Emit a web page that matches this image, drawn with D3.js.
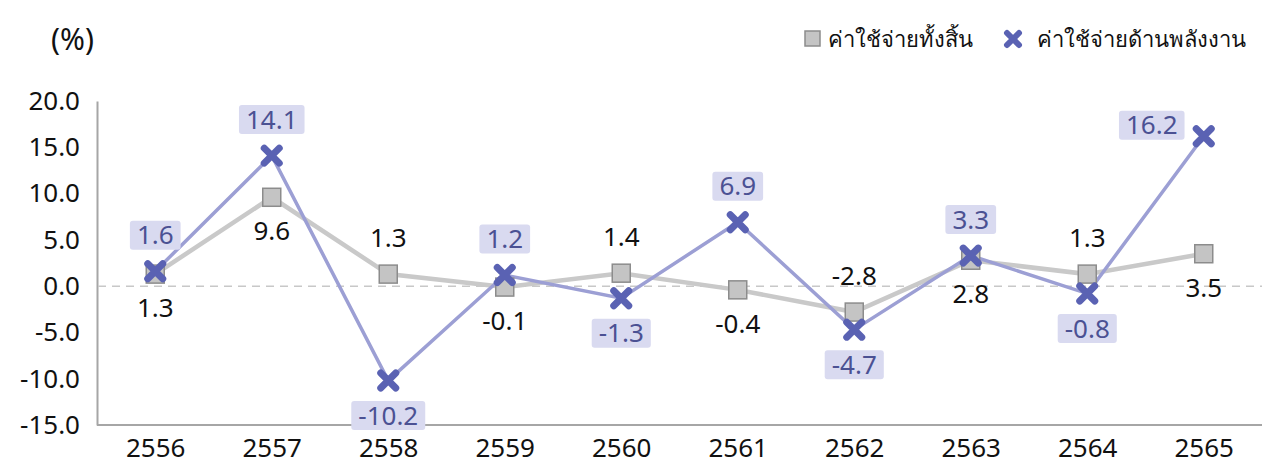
<!DOCTYPE html>
<html><head><meta charset="utf-8">
<script src="https://cdn.jsdelivr.net/npm/d3@7"></script>
<style>body{margin:0;background:#fff}svg{display:block}text{font-family:"Noto Sans","DejaVu Sans",sans-serif}</style>
</head><body><svg id="c" width="1274" height="464"></svg>
<script>
const years = ["2556","2557","2558","2559","2560","2561","2562","2563","2564","2565"];
const totalExp = [1.3, 9.6, 1.3, -0.1, 1.4, -0.4, -2.8, 2.8, 1.3, 3.5];
const energyExp = [1.6, 14.1, -10.2, 1.2, -1.3, 6.9, -4.7, 3.3, -0.8, 16.2];
const totalLabelPos = ["below","below","above","below","above","below","above","below","above","below"];
const energyLabelPos = ["above","above","below","above","below","above","below","above","below","left"];
const yTicks = [20, 15, 10, 5, 0, -5, -10, -15];
const seriesNames = ["ค่าใช้จ่ายทั้งสิ้น", "ค่าใช้จ่ายด้านพลังงาน"];

const fmt = d => d.toFixed(1);
const svg = d3.select("#c");
const x = d3.scalePoint().domain(years).range([97, 1262]).padding(0.5);
const y = d3.scaleLinear().domain([-15, 20]).range([425, 101]);
const fs = 26;

// y axis
const ya = svg.append("g").attr("transform","translate(97,0)")
  .call(d3.axisLeft(y).tickValues(yTicks).tickSize(0).tickPadding(17).tickFormat(fmt));
ya.select(".domain").attr("stroke","#a6a6a6").attr("stroke-width",2);
ya.selectAll("text").attr("font-size",fs).attr("fill","#111").style("font-family",'"Noto Sans",sans-serif');

// x axis
const xa = svg.append("g").attr("transform","translate(0,425)")
  .call(d3.axisBottom(x).tickSize(0).tickPadding(14));
xa.select(".domain").attr("stroke","#a6a6a6").attr("stroke-width",2).attr("d","M97,0H1262");
xa.selectAll("text").attr("font-size",fs).attr("fill","#111").style("font-family",'"Noto Sans",sans-serif');

// zero line
svg.append("line").attr("x1",98).attr("x2",1262).attr("y1",y(0)).attr("y2",y(0))
  .attr("stroke","#c8c8c8").attr("stroke-width",1.5).attr("stroke-dasharray","8,6");

svg.append("text").attr("x",51).attr("y",50).attr("font-size",30).attr("fill","#111").text("(%)");

const line = d3.line().x((d,i)=>x(years[i])).y(d=>y(d));
svg.append("path").datum(totalExp).attr("d",line).attr("fill","none").attr("stroke","#c9c9c9").attr("stroke-width",4.5);
svg.append("path").datum(energyExp).attr("d",line).attr("fill","none").attr("stroke","#9c9fd4").attr("stroke-width",3.5);

// square markers
svg.selectAll(".sq").data(totalExp).join("rect")
  .attr("x",(d,i)=>x(years[i])-9).attr("y",d=>y(d)-9).attr("width",18).attr("height",18)
  .attr("fill","#c4c4c4").attr("stroke","#8c8c8c").attr("stroke-width",1.5);

// x markers
function xMark(g, cx, cy, s, w){
  g.append("path").attr("d",`M${cx-s},${cy-s}L${cx+s},${cy+s}M${cx-s},${cy+s}L${cx+s},${cy-s}`)
   .attr("stroke","#5a62b3").attr("stroke-width",w).attr("stroke-linecap","round").attr("fill","none");
}
energyExp.forEach((d,i)=>xMark(svg, x(years[i]), y(d), 7.5, 7));

// total labels
svg.selectAll(".tl").data(totalExp).join("text")
  .attr("x",(d,i)=>x(years[i]))
  .attr("y",(d,i)=>y(d)+(totalLabelPos[i]==="above"?-36:34))
  .attr("dy","0.35em").attr("text-anchor","middle").attr("font-size",fs).attr("fill","#111")
  .text(fmt);

// energy labels with boxes
energyExp.forEach((d,i)=>{
  const p = energyLabelPos[i];
  let cx = x(years[i]), cy = y(d);
  if(p==="above") cy -= 36; else if(p==="below") cy += 35; else { cx -= 52; cy -= 11; }
  const g = svg.append("g");
  const t = g.append("text").attr("x",cx).attr("y",cy).attr("dy","0.35em").attr("text-anchor","middle")
    .attr("font-size",fs).attr("fill","#4b5193").text(fmt(d));
  const w = t.node().getComputedTextLength();
  g.insert("rect","text").attr("x",cx-w/2-7).attr("y",cy-14.5).attr("width",w+14).attr("height",29)
    .attr("rx",3).attr("fill","#d9daf0");
});

// legend
const lg = svg.append("g");
lg.append("rect").attr("x",805).attr("y",31).attr("width",15).attr("height",15)
  .attr("fill","#c4c4c4").attr("stroke","#8c8c8c").attr("stroke-width",1.5);
lg.append("text").attr("x",828).attr("y",47).attr("font-size",22).attr("fill","#111").text(seriesNames[0]);
xMark(lg, 1013, 39, 6, 6);
lg.append("text").attr("x",1037).attr("y",47).attr("font-size",22).attr("fill","#111").text(seriesNames[1]);
</script></body></html>
